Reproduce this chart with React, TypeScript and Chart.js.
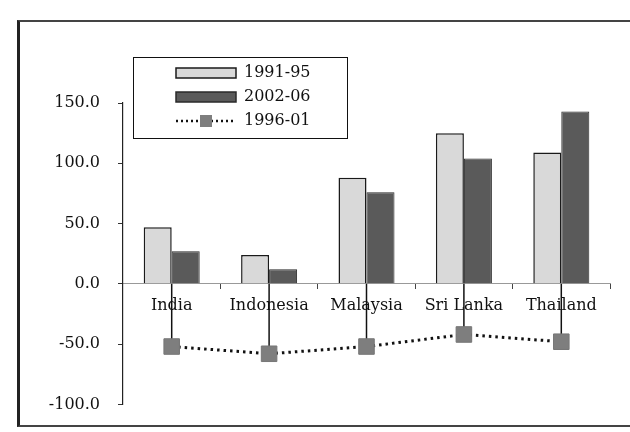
import React, { useEffect, useRef } from "react";
import { Chart, registerables } from "chart.js";

Chart.register(...registerables);

const categories = ["India", "Indonesia", "Malaysia", "Sri Lanka", "Thailand"];
const series1991 = [47, 24, 88, 125, 109];
const series2002 = [27, 12, 76, 104, 143];
const series1996 = [-52, -58, -52, -42, -48];
const seriesLabels = ["1991-95", "2002-06", "1996-01"];
const yMin = -100;
const yMax = 150;
const yStep = 50;

const FONT = "'DejaVu Serif', serif";

const dropLines = {
  id: "dropLines",
  beforeDatasetsDraw(chart: any) {
    const ctx = chart.ctx;
    const meta = chart.getDatasetMeta(2);
    const y0 = chart.scales.y.getPixelForValue(0);
    ctx.save();
    ctx.strokeStyle = "#111";
    ctx.lineWidth = 1.5;
    meta.data.forEach((pt: any) => {
      ctx.beginPath();
      ctx.moveTo(pt.x, pt.y);
      ctx.lineTo(pt.x, y0);
      ctx.stroke();
    });
    ctx.restore();
  },
};

const boxLegend = {
  id: "boxLegend",
  afterDraw(chart: any) {
    const ctx = chart.ctx;
    const area = chart.chartArea;
    const x0 = area.left + 10;
    const y0 = area.top - 46;
    const w = 214;
    const h = 81;
    ctx.save();
    ctx.fillStyle = "#fff";
    ctx.fillRect(x0, y0, w, h);
    ctx.strokeStyle = "#111";
    ctx.lineWidth = 1;
    ctx.strokeRect(x0 + 0.5, y0 + 0.5, w, h);
    const ds = chart.data.datasets;
    const order = [0, 1, 2];
    ctx.font = "16px " + FONT;
    ctx.textBaseline = "middle";
    ctx.textAlign = "left";
    order.forEach((i, row) => {
      const d = ds[i];
      const cy = y0 + 16 + row * 24;
      const sx = x0 + 43;
      const sw = 60;
      if (d.type === "line") {
        ctx.strokeStyle = d.borderColor;
        ctx.lineWidth = 2.5;
        ctx.setLineDash([2, 3]);
        ctx.beginPath();
        ctx.moveTo(sx, cy);
        ctx.lineTo(sx + sw, cy);
        ctx.stroke();
        ctx.setLineDash([]);
        ctx.fillStyle = d.pointBackgroundColor;
        ctx.fillRect(sx + sw / 2 - 6, cy - 6, 12, 12);
      } else {
        ctx.fillStyle = d.backgroundColor;
        ctx.fillRect(sx, cy - 5, sw, 10);
        ctx.strokeStyle = d.borderColor;
        ctx.lineWidth = 1.5;
        ctx.strokeRect(sx, cy - 5, sw, 10);
      }
      ctx.fillStyle = "#111";
      ctx.fillText(d.label, sx + sw + 8, cy);
    });
    ctx.restore();
  },
};

export default function App() {
  const ref = useRef<HTMLCanvasElement | null>(null);
  useEffect(() => {
    if (!ref.current) return;
    const chart = new Chart(ref.current, {
      type: "bar",
      data: {
        labels: categories,
        datasets: [
          {
            label: seriesLabels[0],
            data: series1991,
            backgroundColor: "#d9d9d9",
            borderColor: "#1a1a1a",
            borderWidth: 1.5,
            categoryPercentage: 0.575,
            barPercentage: 1.0,
            order: 1,
          } as any,
          {
            label: seriesLabels[1],
            data: series2002,
            backgroundColor: "#5a5a5a",
            borderColor: "#2a2a2a",
            borderWidth: 1,
            categoryPercentage: 0.575,
            barPercentage: 1.0,
            order: 2,
          } as any,
          {
            type: "line",
            label: seriesLabels[2],
            data: series1996,
            borderColor: "#111",
            borderWidth: 3,
            borderDash: [2.5, 4],
            pointStyle: "rect",
            pointRadius: 11,
            pointBackgroundColor: "#7e7e7e",
            pointBorderColor: "#777",
            pointBorderWidth: 1,
            fill: false,
            order: 0,
          } as any,
        ],
      },
      options: {
        responsive: false,
        animation: false,
        devicePixelRatio: 1,
        layout: { padding: { left: 0, top: 103, right: 20, bottom: 24 } },
        plugins: { legend: { display: false }, tooltip: { enabled: false } },
        scales: {
          x: {
            type: "category",
            position: { y: 0 } as any,
            offset: true,
            grid: {
              offset: true,
              drawOnChartArea: false,
              drawTicks: true,
              tickLength: 5,
              color: "#444",
            },
            border: { display: true, color: "#999", width: 1 },
            ticks: {
              color: "#111",
              padding: 7,
              font: { family: FONT, size: 16 },
              maxRotation: 0,
              autoSkip: false,
            },
          },
          y: {
            min: yMin,
            max: yMax,
            afterFit: (s: any) => {
              s.width = 123;
            },
            ticks: {
              stepSize: yStep,
              color: "#111",
              padding: 18,
              font: { family: FONT, size: 16 },
              callback: (v: any) => Number(v).toFixed(1),
            },
            grid: { drawOnChartArea: false, tickLength: 5, color: "#333" },
            border: { display: true, color: "#222", width: 1.2 },
          },
        },
      },
      plugins: [dropLines, boxLegend],
    });
    return () => chart.destroy();
  }, []);
  return (
    <div
      style={{
        position: "fixed",
        left: 0,
        top: 0,
        width: 630,
        height: 432,
        overflow: "hidden",
        background: "#fff",
      }}
    >
      <div
        style={{
          position: "absolute",
          left: 17,
          top: 20,
          width: 660,
          height: 403,
          borderLeft: "3px solid #222",
          borderTop: "2px solid #444",
          borderBottom: "2px solid #444",
        }}
      />
      <canvas
        ref={ref}
        width={630}
        height={432}
        style={{ position: "absolute", left: 0, top: 0 }}
      />
    </div>
  );
}
